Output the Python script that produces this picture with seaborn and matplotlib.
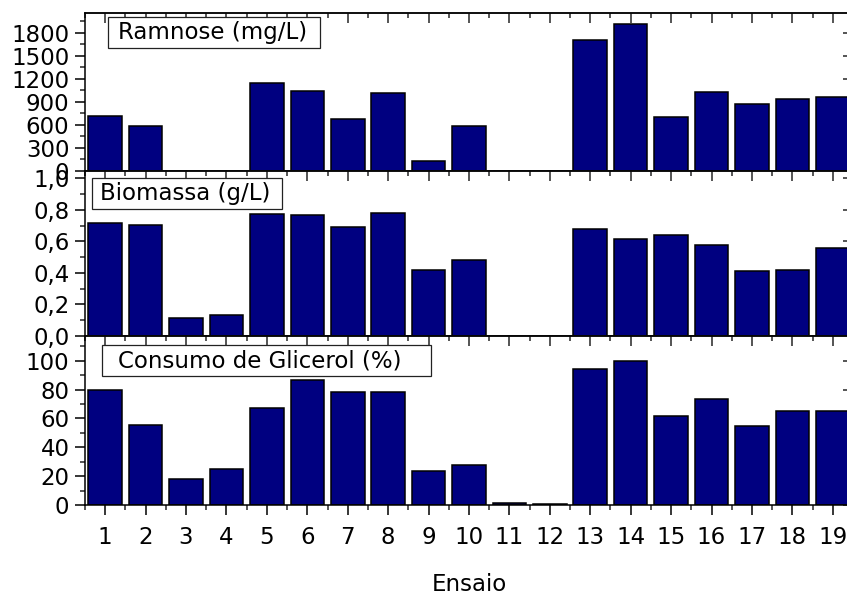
import matplotlib
matplotlib.use("Agg")
import matplotlib.pyplot as plt
from matplotlib.ticker import MultipleLocator, FuncFormatter, NullFormatter
from matplotlib.patches import Rectangle
import seaborn as sns

# Experimental runs and measured responses
ensaio = list(range(1, 20))
ramnose = [721, 583, 0, 0, 1144, 1047, 674, 1017, 130, 591,
           0, 0, 1709, 1917, 700, 1026, 878, 943, 969]
biomassa = [0.714, 0.703, 0.117, 0.131, 0.773, 0.766, 0.692, 0.777, 0.417, 0.483,
            0.0, 0.0, 0.678, 0.612, 0.641, 0.578, 0.409, 0.419, 0.557]
glicerol = [79.7, 55.2, 17.8, 24.7, 67.4, 86.8, 78.3, 78.3, 23.4, 27.5,
            1.6, 0.5, 94.2, 100.0, 61.7, 73.2, 54.5, 65.3, 65.3]

titulos = ["Ramnose (mg/L)", "Biomassa (g/L)", "Consumo de Glicerol (%)"]
x_label = "Ensaio"

sns.set_style("ticks")
plt.rcParams["font.family"] = ["DejaVu Sans"]
plt.rcParams["font.size"] = 16.5
plt.rcParams["axes.linewidth"] = 1.1
plt.rcParams["axes.labelcolor"] = "black"
plt.rcParams["text.color"] = "black"

W, H = 847, 597
fig = plt.figure(figsize=(W / 100, H / 100), dpi=100)


def px_rect(x0, y0, x1, y1):
    return [x0 / W, 1 - y1 / H, (x1 - x0) / W, (y1 - y0) / H]


# panel extents in pixels (the right edge runs slightly past the canvas)
paineis = [
    dict(rect=(85, 13, 853, 171), dados=ramnose, ylim=(0, 2060), major=300, minor=150,
         fmt=lambda v, p: f"{v:.0f}", caixa=(108, 17, 320, 48), tx=118),
    dict(rect=(85, 171, 853, 336), dados=biomassa, ylim=(0, 1.046), major=0.2, minor=0.1,
         fmt=lambda v, p: f"{v:.1f}".replace(".", ","), caixa=(92, 178, 282, 209), tx=100),
    dict(rect=(85, 336, 853, 505), dados=glicerol, ylim=(0, 117.1), major=20, minor=10,
         fmt=lambda v, p: f"{v:.0f}", caixa=(102, 345, 431, 376), tx=118),
]

BAR = "#000080"
tick_major = dict(length=7.2, width=1.1)
tick_minor = dict(length=3.6, width=1.1)

axes = []
for i, (p, titulo) in enumerate(zip(paineis, titulos)):
    ax = fig.add_axes(px_rect(*p["rect"]))
    sns.barplot(x=ensaio, y=p["dados"], native_scale=True, width=0.83,
                color=BAR, saturation=1, edgecolor="black", linewidth=1.1,
                errorbar=None, ax=ax)
    ax.set_xlim(0.5, 19.5)
    ax.set_ylim(*p["ylim"])
    ax.set_ylabel("")
    ax.set_xlabel("")

    ax.xaxis.set_major_locator(MultipleLocator(1))
    ax.xaxis.set_minor_locator(MultipleLocator(0.5))
    ax.yaxis.set_major_locator(MultipleLocator(p["major"]))
    ax.yaxis.set_minor_locator(MultipleLocator(p["minor"]))
    ax.yaxis.set_major_formatter(FuncFormatter(p["fmt"]))

    ax.tick_params(axis="both", which="major", direction="out", **tick_major)
    ax.tick_params(axis="both", which="minor", direction="out", **tick_minor)
    ax.tick_params(axis="x", which="both", top=False, bottom=True, pad=8)
    ax.tick_params(axis="y", which="both", right=False, left=True, pad=4)
    ax.tick_params(labelsize=16.5, colors="black")

    if i < 2:
        ax.tick_params(axis="x", labelbottom=False)

    # inward ticks on the top and right edges
    sx = ax.secondary_xaxis("top")
    sx.xaxis.set_major_locator(MultipleLocator(1))
    sx.xaxis.set_minor_locator(MultipleLocator(0.5))
    sx.xaxis.set_major_formatter(NullFormatter())
    sx.tick_params(which="major", direction="in", **tick_major)
    sx.tick_params(which="minor", direction="in", **tick_minor)

    sy = ax.secondary_yaxis("right")
    sy.yaxis.set_major_locator(MultipleLocator(p["major"]))
    sy.yaxis.set_minor_locator(MultipleLocator(p["minor"]))
    sy.yaxis.set_major_formatter(NullFormatter())
    sy.tick_params(which="major", direction="in", **tick_major)
    sy.tick_params(which="minor", direction="in", **tick_minor)

    for s in ax.spines.values():
        s.set_visible(True)
        s.set_linewidth(1.1)
        s.set_color("black")

    # boxed panel title
    x0, y0, x1, y1 = p["caixa"]
    fig.patches.append(Rectangle((x0 / W, 1 - y1 / H), (x1 - x0) / W, (y1 - y0) / H,
                                 transform=fig.transFigure, facecolor="white",
                                 edgecolor="#222222", linewidth=0.9, zorder=5))
    fig.text(p["tx"] / W, 1 - ((y0 + y1) / 2) / H, titulo, ha="left", va="center",
             fontsize=16.5, color="black", zorder=6)
    axes.append(ax)

axes[-1].set_xlabel(x_label, fontsize=16.5, labelpad=17, color="black")

fig.savefig("out.png", dpi=100)
